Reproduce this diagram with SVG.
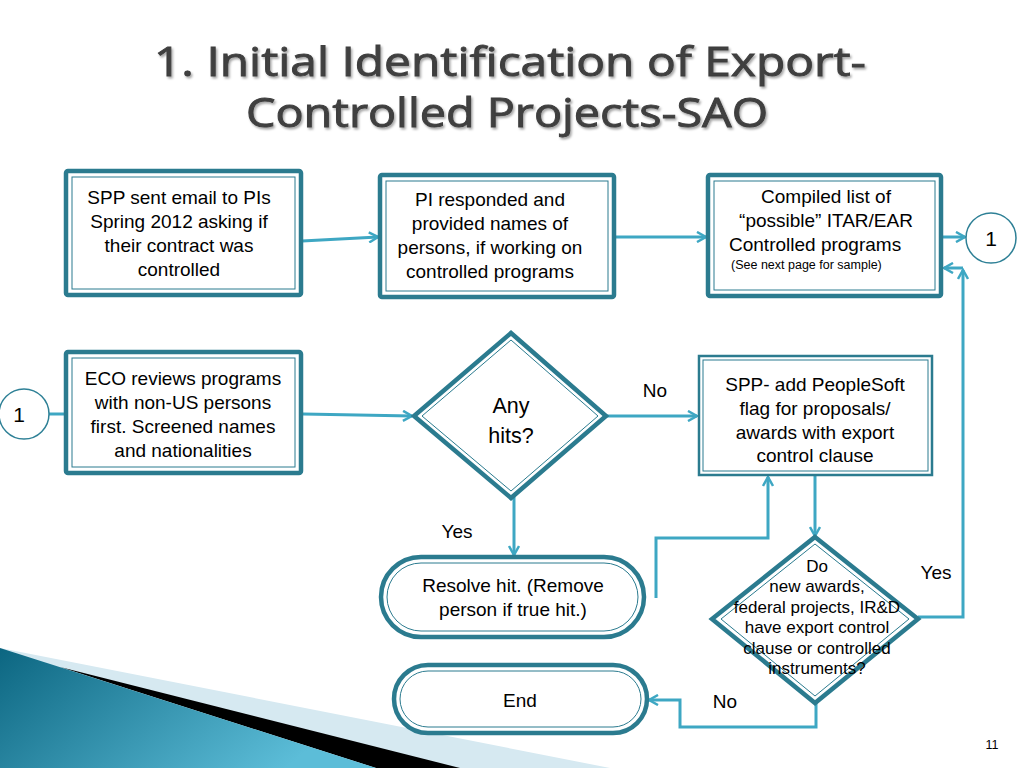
<svg xmlns="http://www.w3.org/2000/svg" width="1024" height="768" viewBox="0 0 1024 768">
<defs>
<style>
.o{fill:#fff;stroke:#2b7b8f;stroke-width:4.5}
.i{fill:none;stroke:#2b7b8f;stroke-width:1}
.c{fill:none;stroke:#3ea7c3;stroke-width:3}
.t{font-family:"Liberation Sans",Arial,sans-serif;font-size:19px;fill:#000;text-anchor:middle}
.s{font-family:"Liberation Sans",Arial,sans-serif;font-size:12.5px;fill:#000}
.d{font-family:"Liberation Sans",Arial,sans-serif;font-size:17px;fill:#000;text-anchor:middle}
.ttl{font-family:"Open Sans","Noto Sans",sans-serif;font-size:40px;fill:#3f3f3f;stroke:#3f3f3f;stroke-width:0.9;text-anchor:middle}
.cir{fill:#fff;stroke:#2e8096;stroke-width:1.5}
</style>
<filter id="sh" x="-5%" y="-20%" width="110%" height="140%">
<feDropShadow dx="1.5" dy="2" stdDeviation="1" flood-color="#000" flood-opacity="0.35"/>
</filter>
<marker id="ar" viewBox="0 0 12 12" refX="10" refY="6" markerWidth="12" markerHeight="12" markerUnits="userSpaceOnUse" orient="auto">
<path d="M1,1 L10,6 L1,11" fill="none" stroke="#3ea7c3" stroke-width="2.5"/>
</marker>
<linearGradient id="tg" x1="0" y1="0" x2="1" y2="0.4">
<stop offset="0" stop-color="#0c6681"/>
<stop offset="1" stop-color="#5cbdd8"/>
</linearGradient>
</defs>
<rect width="1024" height="768" fill="#fff"/>

<g id="decoration">
<polygon points="0,648 610,768 0,768" fill="#d6e9f1"/>
<polygon points="60,667 460,768 376,768" fill="#000"/>
<polygon points="0,648 376,768 0,768" fill="url(#tg)"/>
</g>

<g id="title" filter="url(#sh)">
<text class="ttl" x="510" y="76" textLength="712" lengthAdjust="spacingAndGlyphs">1. Initial Identification of Export-</text>
<text class="ttl" x="507" y="127" textLength="522" lengthAdjust="spacingAndGlyphs">Controlled Projects-SAO</text>
</g>

<g id="connectors">
<line class="c" x1="302" y1="241" x2="378" y2="237" marker-end="url(#ar)"/>
<line class="c" x1="615" y1="237" x2="706" y2="237" marker-end="url(#ar)"/>
<line class="c" x1="943" y1="237" x2="965" y2="237" marker-end="url(#ar)"/>
<line class="c" x1="49" y1="414" x2="74" y2="414" marker-end="url(#ar)"/>
<line class="c" x1="303" y1="414" x2="412" y2="416" marker-end="url(#ar)"/>
<line class="c" x1="605" y1="416" x2="697" y2="416" marker-end="url(#ar)"/>
<line class="c" x1="514" y1="497" x2="514" y2="555" marker-end="url(#ar)"/>
<polyline class="c" points="656,598 656,538 768,538 768,477" marker-end="url(#ar)"/>
<line class="c" x1="815" y1="476" x2="815" y2="536" marker-end="url(#ar)"/>
<polyline class="c" points="918,617 963,617 963,270" marker-end="url(#ar)"/>
<line class="c" x1="963" y1="268" x2="944" y2="268" marker-end="url(#ar)"/>
<polyline class="c" points="816,703 816,727 680,727 680,700 649,700" marker-end="url(#ar)"/>
</g>

<g id="n1">
<rect class="o" x="66" y="171" width="235" height="124" rx="2"/>
<rect class="i" x="72" y="177" width="223" height="112"/>
<text class="t" x="179" y="204">SPP sent email to PIs</text>
<text class="t" x="179" y="228">Spring 2012 asking if</text>
<text class="t" x="179" y="252">their contract was</text>
<text class="t" x="179" y="276">controlled</text>
</g>

<g id="n2">
<rect class="o" x="380" y="175" width="234" height="122" rx="2"/>
<rect class="i" x="386" y="181" width="222" height="110"/>
<text class="t" x="490" y="206">PI responded and</text>
<text class="t" x="490" y="230">provided names of</text>
<text class="t" x="490" y="254">persons, if working on</text>
<text class="t" x="490" y="278">controlled programs</text>
</g>

<g id="n3">
<rect class="o" x="708" y="175" width="233" height="121" rx="2"/>
<rect class="i" x="714" y="181" width="221" height="109"/>
<text class="t" x="826" y="203">Compiled list of</text>
<text class="t" x="826" y="227">“possible” ITAR/EAR</text>
<text class="t" x="729" y="251" style="text-anchor:start">Controlled programs</text>
<text class="s" x="731" y="269">(See next page for sample)</text>
</g>

<g id="c1r">
<circle class="cir" cx="991" cy="238" r="25"/>
<text class="t" x="991" y="246" style="font-size:21px">1</text>
</g>

<g id="c1l">
<circle class="cir" cx="24" cy="414" r="25"/>
<text class="t" x="19" y="422" style="font-size:21px">1</text>
</g>

<g id="n4">
<rect class="o" x="66" y="352" width="235" height="121" rx="2"/>
<rect class="i" x="72" y="358" width="223" height="109"/>
<text class="t" x="183" y="385">ECO reviews programs</text>
<text class="t" x="183" y="409">with non-US persons</text>
<text class="t" x="183" y="433">first. Screened names</text>
<text class="t" x="183" y="457">and nationalities</text>
</g>

<g id="n5">
<polygon class="o" points="511,333 606,416 511,498 414,416"/>
<polygon class="i" points="511,340 598,416 511,491 422,416"/>
<text class="t" x="511" y="413" style="font-size:21.5px">Any</text>
<text class="t" x="511" y="443" style="font-size:21.5px">hits?</text>
</g>

<g id="n6">
<rect class="o" x="699" y="356" width="233" height="119" style="stroke-width:2.5"/>
<rect class="i" x="703" y="360" width="225" height="111"/>
<text class="t" x="815" y="391">SPP- add PeopleSoft</text>
<text class="t" x="815" y="415">flag for proposals/</text>
<text class="t" x="815" y="439">awards with export</text>
<text class="t" x="815" y="462">control clause</text>
</g>

<g id="n7">
<rect class="o" x="381" y="557" width="263" height="80" rx="40"/>
<rect class="i" x="387" y="563" width="251" height="68" rx="34"/>
<text class="t" x="513" y="592">Resolve hit. (Remove</text>
<text class="t" x="513" y="616">person if true hit.)</text>
</g>

<g id="n8">
<polygon class="o" points="815,537 918,619 815,703 712,619"/>
<polygon class="i" points="815,544 909,619 815,696 721,619"/>
<text class="d" x="817" y="572">Do</text>
<text class="d" x="817" y="592">new awards,</text>
<text class="d" x="817" y="613">federal projects, IR&amp;D</text>
<text class="d" x="817" y="633">have export control</text>
<text class="d" x="817" y="654">clause or controlled</text>
<text class="d" x="817" y="674">instruments?</text>
</g>

<g id="n9">
<rect class="o" x="394" y="665" width="253" height="68" rx="34"/>
<rect class="i" x="400" y="671" width="241" height="56" rx="28"/>
<text class="t" x="520" y="707">End</text>
</g>

<g id="labels">
<text class="t" x="655" y="397">No</text>
<text class="t" x="457" y="538">Yes</text>
<text class="t" x="936" y="579">Yes</text>
<text class="t" x="725" y="708">No</text>
<text class="s" x="992" y="749" style="text-anchor:middle">11</text>
</g>
</svg>
